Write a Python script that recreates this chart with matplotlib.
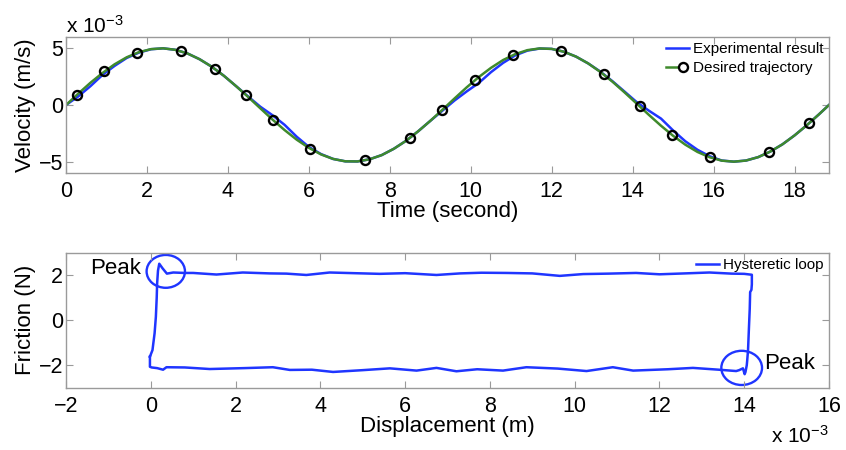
import matplotlib
matplotlib.use("Agg")
import matplotlib.pyplot as plt
from matplotlib.patches import Ellipse
from matplotlib.legend_handler import HandlerTuple

plt.rcParams['font.family'] = ['Liberation Sans', 'DejaVu Sans']
plt.rcParams['mathtext.fontset'] = 'custom'
plt.rcParams['mathtext.rm'] = 'Liberation Sans'
plt.rcParams['mathtext.it'] = 'Liberation Sans:italic'
plt.rcParams['mathtext.bf'] = 'Liberation Sans:bold'

# ---------------- data: top panel (velocity, x1e-3 m/s) ----------------
time_s = [0.0, 0.3, 0.6, 0.9, 1.2, 1.5, 1.8, 2.1, 2.4, 2.7, 3.0, 3.3, 3.6, 3.9,
          4.2, 4.5, 4.8, 5.1, 5.4, 5.7, 6.0, 6.3, 6.6, 6.9, 7.2, 7.5, 7.8, 8.1,
          8.4, 8.7, 9.0, 9.3, 9.6, 9.9, 10.2, 10.5, 10.8, 11.1, 11.4, 11.7,
          12.0, 12.3, 12.6, 12.9, 13.2, 13.5, 13.8, 14.1, 14.4, 14.7, 15.0,
          15.3, 15.6, 15.9, 16.2, 16.5, 16.8, 17.1, 17.4, 17.7, 18.0, 18.3,
          18.6, 18.9]
desired_vel = [0.00, 0.99, 1.95, 2.82, 3.59, 4.21, 4.66, 4.93, 5.00, 4.87, 4.55,
               4.04, 3.38, 2.58, 1.67, 0.71, -0.29, -1.28, -2.21, -3.06, -3.78,
               -4.36, -4.76, -4.97, -4.98, -4.79, -4.42, -3.86, -3.16, -2.32,
               -1.40, -0.42, 0.58, 1.56, 2.47, 3.28, 3.97, 4.49, 4.84, 4.99,
               4.95, 4.70, 4.27, 3.67, 2.92, 2.06, 1.11, 0.12, -0.87, -1.83,
               -2.72, -3.50, -4.14, -4.61, -4.91, -5.00, -4.90, -4.60, -4.11,
               -3.47, -2.68, -1.79, -0.83, 0.17]
experimental_vel = [0.00, 0.75, 1.65, 2.65, 3.45, 4.15, 4.62, 4.92, 5.00, 4.87,
                    4.55, 4.04, 3.38, 2.58, 1.67, 0.75, -0.15, -0.90, -1.75,
                    -2.80, -3.70, -4.33, -4.76, -4.97, -4.98, -4.79, -4.42,
                    -3.86, -3.16, -2.32, -1.40, -0.50, 0.40, 1.20, 1.95, 2.90,
                    3.72, 4.38, 4.80, 4.98, 4.95, 4.70, 4.27, 3.67, 2.95, 2.10,
                    1.18, 0.25, -0.50, -1.20, -2.25, -3.20, -3.95, -4.52, -4.90,
                    -5.00, -4.90, -4.60, -4.11, -3.47, -2.68, -1.79, -0.83, 0.17]
marker_t = [0.27, 0.95, 1.75, 2.84, 3.69, 4.45, 5.11, 6.04, 7.39, 8.51, 9.30,
            10.10, 11.05, 12.23, 13.28, 14.17, 14.98, 15.91, 17.38, 18.36]
marker_v = [0.90, 2.96, 4.60, 4.74, 3.15, 0.87, -1.31, -3.86, -4.89, -2.88,
            -0.41, 2.19, 4.44, 4.78, 2.73, -0.05, -2.66, -4.63, -4.15, -1.60]

# ---------------- data: bottom panel (hysteretic loop) ----------------
disp_mm = [-0.02, 0.04, 0.09, 0.12, 0.14, 0.15, 0.17, 0.20, 0.28, 0.38, 0.53,
           0.80, 1.00, 1.55, 2.17, 2.80, 3.20, 3.67, 4.22, 4.80, 5.40, 6.00,
           6.74, 7.30, 7.80, 8.40, 9.00, 9.65, 10.20, 10.80, 11.45, 12.00,
           12.60, 13.18, 13.70, 14.00, 14.18, 14.18, 14.17, 14.14, 14.13,
           14.11, 14.09, 14.07, 14.06, 14.03, 14.01, 13.97, 13.88, 13.81,
           13.40, 12.79, 12.20, 11.38, 10.90, 10.28, 9.60, 8.86, 8.31, 7.70,
           7.21, 6.74, 6.27, 5.64, 5.00, 4.30, 3.80, 3.28, 2.88, 2.20, 1.39,
           0.80, 0.37, 0.29, 0.15, 0.02, -0.02, -0.02]
friction_n = [-1.62, -1.33, -0.58, 0.15, 1.00, 1.64, 2.20, 2.51, 2.30, 2.07,
              2.12, 2.10, 2.10, 2.03, 2.12, 2.08, 2.07, 2.01, 2.12, 2.09, 2.06,
              2.09, 2.01, 2.08, 2.11, 2.10, 2.08, 1.97, 2.05, 2.07, 2.10, 2.04,
              2.08, 2.12, 2.07, 2.06, 2.02, 1.60, 1.35, 1.25, 0.50, -0.40,
              -1.33, -1.80, -2.00, -2.30, -2.40, -2.14, -2.22, -2.26, -2.20,
              -2.12, -2.18, -2.24, -2.09, -2.26, -2.15, -2.09, -2.24, -2.18,
              -2.27, -2.12, -2.24, -2.14, -2.22, -2.30, -2.20, -2.21, -2.09,
              -2.13, -2.17, -2.10, -2.09, -2.20, -2.13, -2.10, -2.07, -1.62]

x_ticks_top = [0, 2, 4, 6, 8, 10, 12, 14, 16, 18]
y_ticks_top = [-5, 0, 5]
x_ticks_bot = [-2, 0, 2, 4, 6, 8, 10, 12, 14, 16]
y_ticks_bot = [-2, 0, 2]

BLUE = '#1f35ff'
GREEN = '#3f8a2c'
SPINE = '#9a9a9a'
W, H = 846, 450
SCALE_TXT = '$\\mathregular{x\\ 10^{-3}}$'
TICK_FS = 15.5
LABEL_FS = 16

fig = plt.figure(figsize=(W / 100, H / 100), dpi=100)


def style_axes(ax):
    for s in ax.spines.values():
        s.set_color(SPINE)
        s.set_linewidth(1.0)
    ax.tick_params(direction='in', length=5, width=0.8, color=SPINE,
                   top=True, right=True, labelsize=TICK_FS, labelcolor='black')
    ax.tick_params(axis='x', pad=6)
    ax.tick_params(axis='y', pad=2)


# ---------------- top panel ----------------
ax1 = fig.add_axes([66 / W, 1 - 173 / H, (829 - 66) / W, (173 - 37) / H])
l_exp, = ax1.plot(time_s, experimental_vel, color=BLUE, lw=1.8)
l_des, = ax1.plot(time_s, desired_vel, color=GREEN, lw=1.8)
l_mk, = ax1.plot(marker_t, marker_v, linestyle='none', marker='o', ms=6.5,
                 mfc='none', mec='black', mew=1.7)
ax1.set_xlim(0, 18.85)
ax1.set_ylim(-6, 6)
ax1.set_xticks(x_ticks_top)
ax1.set_yticks(y_ticks_top)
ax1.set_yticklabels(['\u22125', '0', '5'])
style_axes(ax1)
ax1.set_xlabel('Time (second)', fontsize=LABEL_FS, labelpad=-1)
ax1.set_ylabel('Velocity (m/s)', fontsize=LABEL_FS, labelpad=2)
ax1.legend([l_exp, (l_des, l_mk)], ['Experimental result', 'Desired trajectory'],
           handler_map={tuple: HandlerTuple(ndivide=None, pad=0)},
           loc='upper right', bbox_to_anchor=(1.0, 1.0), frameon=False,
           fontsize=11, handlelength=1.5, handletextpad=0.3,
           labelspacing=0.3, borderaxespad=0.15, borderpad=0.2)
fig.text(66 / W, 1 - 33 / H, SCALE_TXT, fontsize=15,
         ha='left', va='baseline')

# ---------------- bottom panel ----------------
ax2 = fig.add_axes([66 / W, 1 - 387.7 / H, (829 - 66) / W, (387.7 - 252.7) / H])
l_loop, = ax2.plot(disp_mm, friction_n, color=BLUE, lw=1.8)
ax2.add_patch(Ellipse((0.354, 2.17), 0.905, 1.46, fill=False,
                      edgecolor=BLUE, lw=1.7))
ax2.add_patch(Ellipse((13.94, -2.12), 0.96, 1.52, fill=False,
                      edgecolor=BLUE, lw=1.7))
ax2.text(-0.22, 2.28, 'Peak', fontsize=16, ha='right', va='center')
ax2.text(14.48, -1.92, 'Peak', fontsize=16, ha='left', va='center')
ax2.set_xlim(-2, 16)
ax2.set_ylim(-3, 3)
ax2.set_xticks(x_ticks_bot)
ax2.set_xticklabels(['\u22122'] + [str(v) for v in x_ticks_bot[1:]])
ax2.set_yticks(y_ticks_bot)
ax2.set_yticklabels(['\u22122', '0', '2'])
style_axes(ax2)
ax2.set_xlabel('Displacement (m)', fontsize=LABEL_FS, labelpad=-1)
ax2.set_ylabel('Friction (N)', fontsize=LABEL_FS, labelpad=2)
ax2.legend([l_loop], ['Hysteretic loop'], loc='upper right',
           bbox_to_anchor=(1.0, 1.0), frameon=False, fontsize=11,
           handlelength=1.5, handletextpad=0.3, borderaxespad=0.15,
           borderpad=0.2)
fig.text(829 / W, 1 - 443 / H, SCALE_TXT, fontsize=15,
         ha='right', va='baseline')

fig.savefig('out.png', dpi=100)
